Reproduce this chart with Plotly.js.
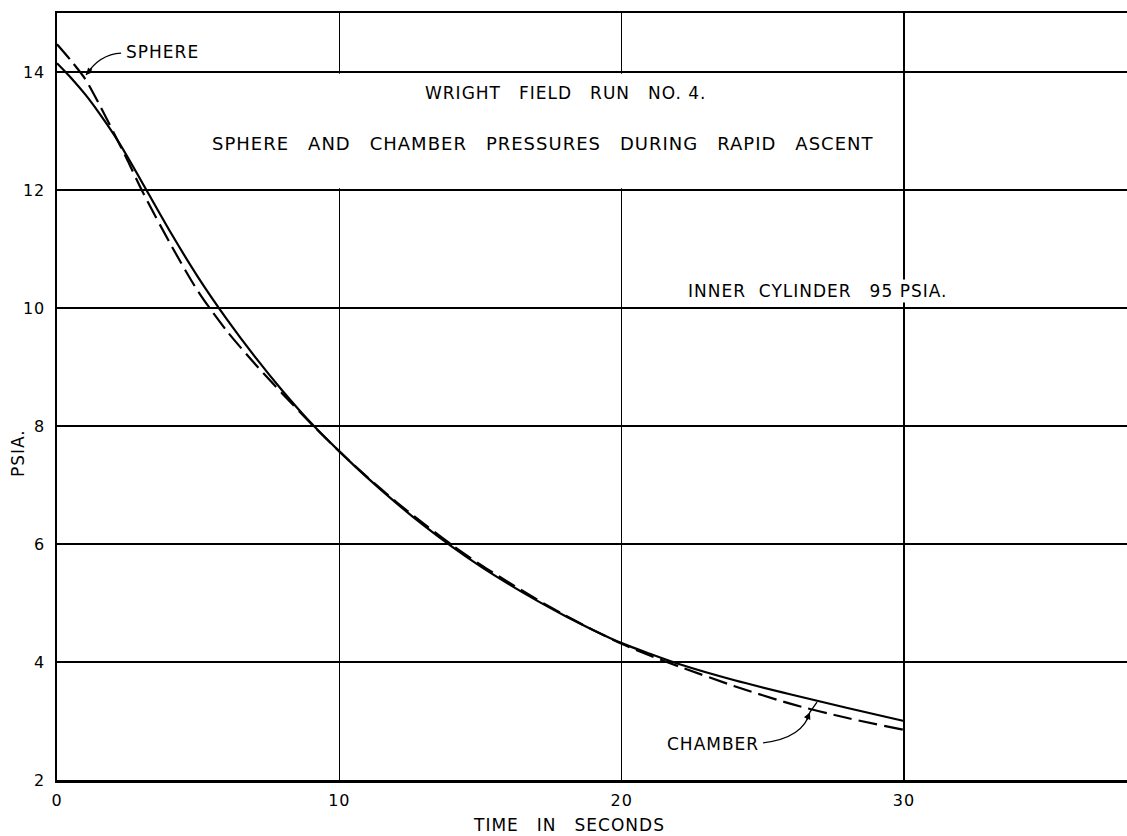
<!DOCTYPE html>
<html>
<head>
<meta charset="utf-8">
<script src="https://cdn.plot.ly/plotly-3.0.1.min.js"></script>
<style>
html,body{margin:0;padding:0;background:#fff;}
#chart{width:1127px;height:836px;}
text{letter-spacing:1px;}
</style>
</head>
<body>
<div id="chart"></div>
<script>
// Time in seconds
var timeSec = [0, 0.5, 1, 1.5, 2, 2.5, 3, 4, 5, 6, 7, 8, 9, 10, 11, 12, 13, 14, 15, 16, 17, 18, 19, 20, 21, 22, 24, 26, 28, 30];
// Chamber pressure (solid line), psia
var chamberPsia = [14.15, 13.9, 13.62, 13.3, 12.95, 12.56, 12.14, 11.3, 10.52, 9.82, 9.18, 8.59, 8.05, 7.57, 7.12, 6.7, 6.31, 5.95, 5.62, 5.32, 5.04, 4.78, 4.54, 4.32, 4.14, 3.97, 3.69, 3.45, 3.22, 3.0];
// Sphere pressure (dashed line), psia
var spherePsia = [14.47, 14.19, 13.88, 13.45, 12.98, 12.5, 12.0, 11.1, 10.28, 9.62, 9.06, 8.54, 8.04, 7.57, 7.13, 6.72, 6.34, 5.98, 5.65, 5.35, 5.06, 4.79, 4.54, 4.31, 4.11, 3.93, 3.59, 3.29, 3.05, 2.85];
var xTicks = [0, 10, 20, 30];
var yTicks = [2, 4, 6, 8, 10, 12, 14];

var FONT = 'DejaVu Sans, Liberation Sans, sans-serif';
var sp = '\u00a0';
var em = '\u2003';

var traces = [
  {x: timeSec, y: chamberPsia, type: 'scatter', mode: 'lines', name: 'CHAMBER',
   line: {color: '#000', width: 2.2, shape: 'spline', smoothing: 0.8}},
  {x: timeSec, y: spherePsia, type: 'scatter', mode: 'lines', name: 'SPHERE',
   line: {color: '#000', width: 2.2, dash: '19px,7px', shape: 'spline', smoothing: 0.8}}
];

var layout = {
  width: 1127, height: 836,
  margin: {l: 57, r: 0, t: 13, b: 56, pad: 0},
  paper_bgcolor: '#fff', plot_bgcolor: '#fff',
  showlegend: false,
  font: {family: FONT, color: '#000', size: 16},
  xaxis: {
    range: [0, 37.9], tickvals: xTicks, ticktext: xTicks.map(String),
    showgrid: true, gridcolor: '#000', gridwidth: 1.3,
    showline: true, linecolor: '#000', linewidth: 2.5, mirror: true,
    zeroline: false, ticks: '', ticklabelstandoff: 4,
    tickfont: {family: FONT, size: 16, color: '#000'}
  },
  yaxis: {
    range: [2, 15], tickvals: yTicks, ticktext: yTicks.map(String),
    showgrid: true, gridcolor: '#000', gridwidth: 1.3,
    showline: true, linecolor: '#000', linewidth: 2.5, mirror: false,
    zeroline: false, ticks: '', ticklabelstandoff: 6,
    tickfont: {family: FONT, size: 16, color: '#000'}
  },
  shapes: [
    // gap in vertical grid lines through the title band
    {type: 'rect', xref: 'x', yref: 'y', x0: 9.5, x1: 20.5, y0: 12.03, y1: 13.97,
     fillcolor: '#fff', line: {width: 0}, layer: 'between'},
    // leader for SPHERE label
    {type: 'path', xref: 'x', yref: 'y', path: 'M 2.27,14.32 Q 1.5,14.3 1.03,13.95',
     line: {color: '#000', width: 1.3}},
    // leader for CHAMBER label
    {type: 'path', xref: 'x', yref: 'y', path: 'M 25.01,2.63 Q 26.43,2.71 26.67,3.15 L 26.92,3.32',
     line: {color: '#000', width: 1.3}}
  ],
  annotations: [
    {text: 'WRIGHT' + em + 'FIELD' + em + 'RUN' + em + 'NO.' + sp + '4.', x: 18.0, y: 13.64, xref: 'x', yref: 'y',
     showarrow: false, font: {size: 17, family: FONT}, xanchor: 'center', yanchor: 'middle'},
    {text: 'SPHERE' + em + 'AND' + em + 'CHAMBER' + em + 'PRESSURES' + em + 'DURING' + em + 'RAPID' + em + 'ASCENT',
     x: 5.42, y: 12.78, xref: 'x', yref: 'y',
     showarrow: false, font: {size: 18, family: FONT}, xanchor: 'left', yanchor: 'middle'},
    {text: 'INNER' + sp + sp + 'CYLINDER' + em + '95' + sp + 'PSIA.', x: 22.28, y: 10.29, xref: 'x', yref: 'y',
     showarrow: false, font: {size: 17, family: FONT}, xanchor: 'left', yanchor: 'middle', bgcolor: '#fff'},
    {text: 'SPHERE', x: 2.37, y: 14.34, xref: 'x', yref: 'y',
     showarrow: false, font: {size: 17, family: FONT}, xanchor: 'left', yanchor: 'middle'},
    {text: 'CHAMBER', x: 21.54, y: 2.61, xref: 'x', yref: 'y',
     showarrow: false, font: {size: 17, family: FONT}, xanchor: 'left', yanchor: 'middle'},
    {text: '', x: 1.03, y: 13.95, xref: 'x', yref: 'y', showarrow: true, ax: 7, ay: -8,
     arrowhead: 2, arrowsize: 1, arrowwidth: 1.4, arrowcolor: '#000'},
    {text: '', x: 26.67, y: 3.15, xref: 'x', yref: 'y', showarrow: true, ax: -4, ay: 9,
     arrowhead: 2, arrowsize: 1, arrowwidth: 1.4, arrowcolor: '#000'},
    {text: 'TIME' + em + 'IN' + em + 'SECONDS', x: 0.570, y: -0.0587, xref: 'paper', yref: 'paper',
     showarrow: false, font: {size: 17, family: FONT}, xanchor: 'right', yanchor: 'middle'},
    {text: 'PSIA.', x: -0.0364, y: 0.4263, xref: 'paper', yref: 'paper', textangle: -90,
     showarrow: false, font: {size: 17, family: FONT}, xanchor: 'center', yanchor: 'middle'}
  ]
};

Plotly.newPlot('chart', traces, layout, {displayModeBar: false, staticPlot: true});
</script>
</body>
</html>
